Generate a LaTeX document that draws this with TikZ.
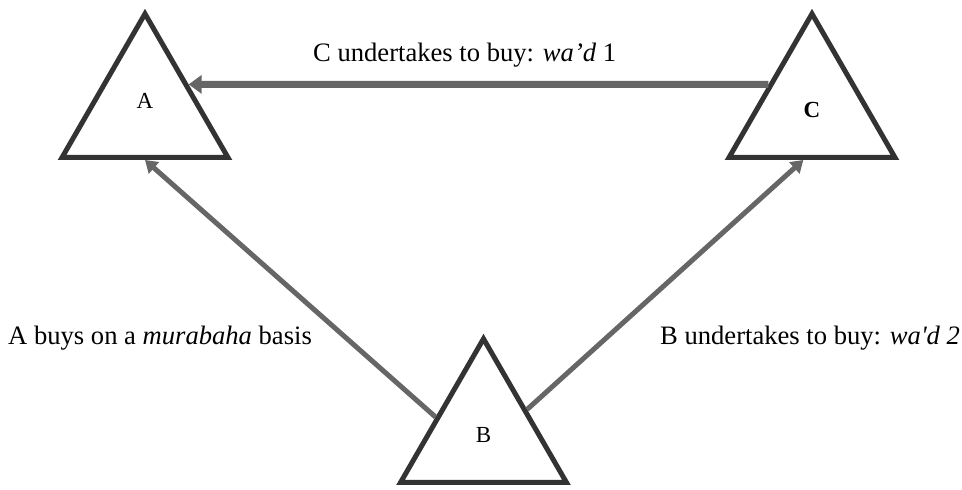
\documentclass[tikz,border=0pt]{standalone}
\usepackage{fontspec}
\setmainfont{Liberation Serif}
\usetikzlibrary{arrows.meta,calc,shapes.geometric}

\begin{document}
\begin{tikzpicture}[x=1pt,y=1pt,
  party/.style={draw=black!80,line width=5pt,regular polygon,regular polygon sides=3,
    minimum size=191.6pt,inner sep=0pt,font=\fontsize{23}{27}\selectfont},
  flow/.style={-{Triangle[length=12pt,width=15pt]},draw=black!60,fill=black!60,line width=5pt},
  note/.style={font=\fontsize{26.6}{32}\selectfont,inner sep=0pt}]
  \useasboundingbox (0,0) rectangle (962,490);
  \node[party] (A) at (145,380.4) {\raisebox{9pt}[\height][\depth]{A}};
  \node[party] (C) at (812,380.4) {\textbf{C}};
  \node[party] (B) at (483.5,55.4) {B};
  \coordinate (bl) at ($(B.corner 1)!0.55!(B.corner 2)$);
  \coordinate (cb) at ($(C.corner 2)!0.45!(C.corner 3)$);
  \draw[flow,line width=7pt,-{Triangle[length=13pt,width=18pt]}] (C.side 1) -- (A.side 3);
  \draw[flow] (bl) -- (A.side 2);
  \draw[flow] (B.side 3) -- (cb);
  \node[note,anchor=base west] (wad1) at (313,428) {C undertakes to buy: \textit{wa'd} 1};
  \node[note,anchor=base west] (murabaha) at (8,145) {A buys on a \textit{murabaha} basis};
  \node[note,anchor=base west] (wad2) at (660,145) {B undertakes to buy: \textit{wa\textquotesingle d 2}};
\end{tikzpicture}
\end{document}
